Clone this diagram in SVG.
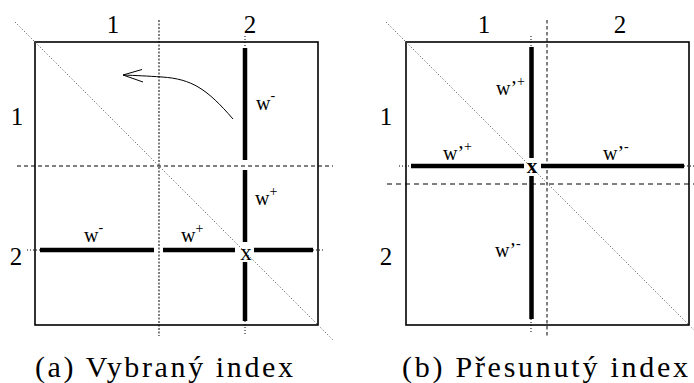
<svg xmlns="http://www.w3.org/2000/svg" width="694" height="383" viewBox="0 0 694 383">
<g id="panel-a">
  <rect x="35" y="42" width="283" height="283" fill="none" stroke="#000" stroke-width="1.6"/>
  <g id="a-guides" fill="none" stroke="#000" stroke-width="1">
    <line x1="15" y1="22" x2="333" y2="340" stroke="#666" stroke-dasharray="1.2 2"/>
    <line x1="159" y1="20" x2="159" y2="336" stroke-dasharray="2 1.5"/>
    <line x1="17" y1="166" x2="333" y2="166" stroke-dasharray="4 3"/>
    <g stroke-dasharray="1 2">
      <line x1="245" y1="36" x2="245" y2="48"/>
      <line x1="245" y1="321" x2="245" y2="334"/>
      <line x1="27" y1="250" x2="40" y2="250"/>
      <line x1="313" y1="250" x2="323" y2="250"/>
    </g>
  </g>
  <g id="a-lines" stroke="#000" stroke-width="4.5" fill="none">
    <line x1="245" y1="48" x2="245" y2="160"/>
    <line x1="245" y1="170" x2="245" y2="242"/>
    <line x1="245" y1="262" x2="245" y2="321"/>
    <line x1="40" y1="250" x2="154" y2="250"/>
    <line x1="163" y1="250" x2="235" y2="250"/>
    <line x1="254" y1="250" x2="313" y2="250"/>
  </g>
  <g id="a-arrow" stroke="#000" stroke-width="1" fill="none">
    <path d="M233,119 C207,89 192,79 162,77 C147,76 136,75.5 123,75"/>
    <path d="M142,69.5 L123,75 L143,82"/>
  </g>
  <g id="a-labels" fill="#000">
    <text font-family="Liberation Serif" font-size="25" text-anchor="middle" x="113" y="33">1</text>
    <text font-family="Liberation Serif" font-size="25" text-anchor="middle" x="250" y="33">2</text>
    <text font-family="Liberation Serif" font-size="25" text-anchor="middle" x="17" y="125">1</text>
    <text font-family="Liberation Serif" font-size="25" text-anchor="middle" x="16" y="265">2</text>
    <text font-family="Liberation Serif" font-size="20" x="256" y="110">w<tspan font-size="14" dy="-10">-</tspan></text>
    <text font-family="Liberation Serif" font-size="20" x="255" y="205">w<tspan font-size="14" dy="-9">+</tspan></text>
    <text font-family="Liberation Serif" font-size="20" x="84" y="242">w<tspan font-size="14" dy="-10">-</tspan></text>
    <text font-family="Liberation Serif" font-size="20" x="181" y="242">w<tspan font-size="14" dy="-9">+</tspan></text>
    <text font-family="Liberation Serif" font-size="23" text-anchor="middle" x="246" y="260">x</text>
    <text font-family="Liberation Serif" font-size="30" x="35" y="377" textLength="258" lengthAdjust="spacing">(a) Vybraný index</text>
  </g>
</g>

<g id="panel-b">
  <rect x="406" y="42" width="283" height="283" fill="none" stroke="#000" stroke-width="1.6"/>
  <g id="b-guides" fill="none" stroke="#000" stroke-width="1">
    <line x1="386" y1="22" x2="694" y2="330" stroke="#666" stroke-dasharray="1.2 2"/>
    <line x1="547" y1="20" x2="547" y2="336" stroke-dasharray="3.5 2.5"/>
    <line x1="387" y1="184" x2="694" y2="184" stroke-dasharray="5 4"/>
    <g stroke-dasharray="1 2">
      <line x1="531" y1="36" x2="531" y2="47"/>
      <line x1="531" y1="319" x2="531" y2="334"/>
      <line x1="399" y1="166" x2="411" y2="166"/>
      <line x1="684" y1="166" x2="694" y2="166"/>
    </g>
  </g>
  <g id="b-lines" stroke="#000" stroke-width="4.5" fill="none">
    <line x1="531.5" y1="47" x2="531.5" y2="158"/>
    <line x1="531.5" y1="176" x2="531.5" y2="319"/>
    <line x1="411" y1="166" x2="524" y2="166"/>
    <line x1="541" y1="166" x2="684" y2="166"/>
  </g>
  <g id="b-labels" fill="#000">
    <text font-family="Liberation Serif" font-size="25" text-anchor="middle" x="484" y="33">1</text>
    <text font-family="Liberation Serif" font-size="25" text-anchor="middle" x="620" y="33">2</text>
    <text font-family="Liberation Serif" font-size="25" text-anchor="middle" x="386" y="125">1</text>
    <text font-family="Liberation Serif" font-size="25" text-anchor="middle" x="386" y="265">2</text>
    <text font-family="Liberation Serif" font-size="20" x="496" y="95">w’<tspan font-size="14" dy="-9">+</tspan></text>
    <text font-family="Liberation Serif" font-size="20" x="443" y="160">w’<tspan font-size="14" dy="-9">+</tspan></text>
    <text font-family="Liberation Serif" font-size="20" x="603" y="160">w’<tspan font-size="14" dy="-9">-</tspan></text>
    <text font-family="Liberation Serif" font-size="20" x="495" y="257">w’<tspan font-size="14" dy="-9">-</tspan></text>
    <text font-family="Liberation Serif" font-size="21" font-weight="bold" text-anchor="middle" x="532" y="173">x</text>
    <text font-family="Liberation Serif" font-size="30" x="402" y="377" textLength="286" lengthAdjust="spacing">(b) Přesunutý index</text>
  </g>
</g>
</svg>
